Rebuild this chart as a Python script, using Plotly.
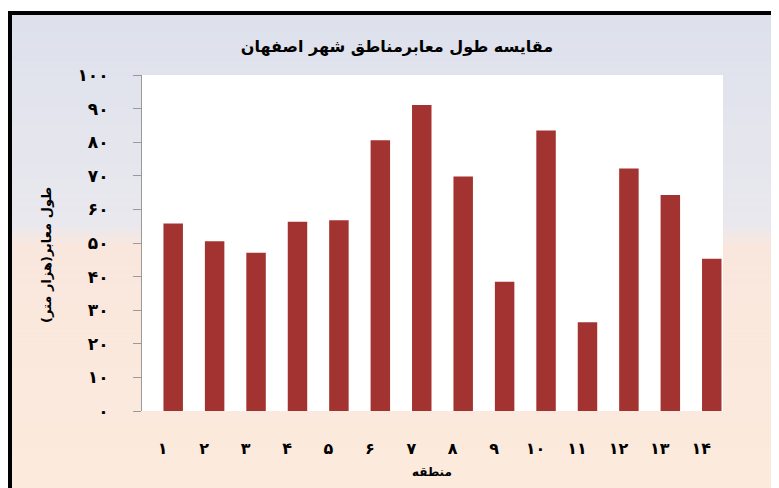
import plotly.graph_objects as go

# ---- data ----
regions = ["۱", "۲", "۳", "۴", "۵", "۶", "۷", "۸", "۹", "۱۰", "۱۱", "۱۲", "۱۳", "۱۴"]
road_length = [55.8, 50.5, 47.1, 56.3, 56.8, 80.6, 91.1, 69.8, 38.5, 83.5, 26.4, 72.2, 64.3, 45.3]
y_tick_values = [0, 10, 20, 30, 40, 50, 60, 70, 80, 90, 100]
y_tick_labels = ["۰", "۱۰", "۲۰", "۳۰", "۴۰", "۵۰", "۶۰", "۷۰", "۸۰", "۹۰", "۱۰۰"]
title_text = "مقایسه طول معابرمناطق شهر اصفهان"
y_title = "طول معابر(هزار متر)"
x_title = "منطقه"

SW, SH = 779, 488          # screen size
OFF = 8                    # page body margin
W, H = SW - OFF, SH - OFF  # figure size
FONT = "DejaVu Sans"

def px(x):
    return (x - OFF) / W

def py(y):
    return 1 - (y - OFF) / H

fig = go.Figure()
fig.add_trace(go.Bar(
    x=regions, y=road_length,
    marker=dict(color="#a33330", line=dict(width=0)),
    width=0.47, offset=0.018,
))

def lerp(c1, c2, t):
    return tuple(round(a + (b - a) * t) for a, b in zip(c1, c2))

stops = [(15, (221, 225, 236)), (225, (233, 232, 238)), (245, (249, 231, 222)), (488, (252, 234, 220))]
shapes = []
n = 60
y0, y1 = 15, SH
for i in range(n):
    ya = y0 + (y1 - y0) * i / n
    yb = y0 + (y1 - y0) * (i + 1) / n
    ym = (ya + yb) / 2
    for (sa, ca), (sb, cb) in zip(stops[:-1], stops[1:]):
        if sa <= ym <= sb:
            c = lerp(ca, cb, (ym - sa) / (sb - sa))
            break
    shapes.append(dict(type="rect", xref="paper", yref="paper",
                       x0=px(12), x1=px(SW), y0=py(yb + 0.5), y1=py(ya),
                       fillcolor="rgb(%d,%d,%d)" % c, line=dict(width=0), layer="below"))
shapes.append(dict(type="rect", xref="paper", yref="paper",
                   x0=px(142), x1=px(723), y0=py(411), y1=py(75),
                   fillcolor="white", line=dict(width=0), layer="below"))
shapes.append(dict(type="rect", xref="paper", yref="paper",
                   x0=px(8), x1=px(SW), y0=py(15), y1=py(11),
                   fillcolor="black", line=dict(width=0), layer="below"))
shapes.append(dict(type="rect", xref="paper", yref="paper",
                   x0=px(8), x1=px(12), y0=py(SH), y1=py(11),
                   fillcolor="black", line=dict(width=0), layer="below"))

fig.update_layout(
    width=W, height=H,
    margin=dict(l=0, r=0, t=0, b=0),
    paper_bgcolor="white",
    plot_bgcolor="rgba(0,0,0,0)",
    showlegend=False,
    shapes=shapes,
    title=dict(text=title_text, x=px(397), y=py(46), xanchor="center", yanchor="middle",
               xref="paper", yref="paper",
               font=dict(family=FONT, size=16, color="black", weight="bold")),
    xaxis=dict(
        domain=[px(142), px(722)],
        range=[-0.5, 13.5],
        showline=False, showgrid=False, zeroline=False,
        ticks="", ticklabelstandoff=26,
        tickfont=dict(family=FONT, size=16, color="black", weight="bold"),
        automargin=False,
    ),
    yaxis=dict(
        domain=[py(411), py(75)],
        range=[0, 100],
        tickvals=y_tick_values, ticktext=y_tick_labels,
        showline=True, linecolor="#9a9a9a", linewidth=1,
        showgrid=False, zeroline=False,
        ticks="outside", ticklen=8, tickcolor="#9a9a9a",
        ticklabelstandoff=21,
        tickfont=dict(family=FONT, size=17, color="black", weight="bold"),
        automargin=False,
    ),
    annotations=[
        dict(text=y_title, xref="paper", yref="paper", x=px(47), y=py(255),
             textangle=-90, showarrow=False, xanchor="center", yanchor="middle",
             font=dict(family=FONT, size=13, color="black", weight="bold")),
        dict(text=x_title, xref="paper", yref="paper", x=px(432), y=py(472),
             showarrow=False, xanchor="center", yanchor="middle",
             font=dict(family=FONT, size=12, color="black", weight="bold")),
    ],
)

fig.write_html("out.html")
